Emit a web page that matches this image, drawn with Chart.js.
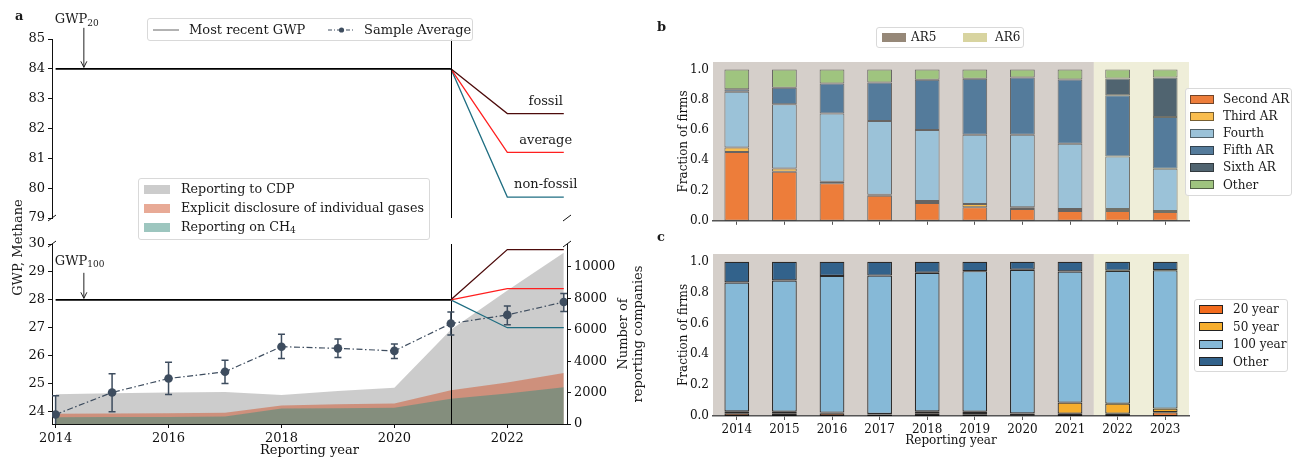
<!DOCTYPE html>
<html>
<head>
<meta charset="utf-8">
<script src="https://cdn.jsdelivr.net/npm/chart.js@4.4.1/dist/chart.umd.min.js"></script>
<style>
  body { margin: 0; background: #fff; font-family: 'DejaVu Serif', serif; color: #1a1a1a; }
  #page { position: relative; width: 1298px; height: 459px; overflow: hidden; }
  canvas { position: absolute; }
  .panel { position: absolute; font-size: 13px; font-weight: bold; line-height: 14px; }
  .leg { position: absolute; box-sizing: border-box; border: 1px solid #d9d9d9; border-radius: 3px; background: rgba(255,255,255,0.8); font-size: 12px; }
  .leg.big { font-size: 13px; }
  .leg .row { position: absolute; height: 14px; line-height: 14px; white-space: nowrap; }
  .leg .sw { position: absolute; box-sizing: border-box; }
  .leg svg { position: absolute; }
  .rot { position: absolute; transform: rotate(-90deg); transform-origin: center center; white-space: nowrap; font-size: 13px; line-height: 15px; text-align: center; }
  sub { font-size: 9px; vertical-align: -2px; line-height: 0; }
</style>
</head>
<body>
<div id="page">
  <canvas id="a1" width="658" height="232" style="left:0;top:0"></canvas>
  <canvas id="a2" width="658" height="227" style="left:0;top:232px"></canvas>
  <canvas id="cb" width="648" height="232" style="left:650px;top:0"></canvas>
  <canvas id="cc" width="648" height="227" style="left:650px;top:232px"></canvas>

  <div class="panel" style="left:15px;top:9px">a</div>
  <div class="panel" style="left:657px;top:20px">b</div>
  <div class="panel" style="left:657px;top:230px">c</div>

  <div class="rot" style="left:-43px;top:240px;width:120px;height:15px">GWP, Methane</div>
  <div class="rot" style="left:545px;top:319px;width:170px;height:30px">Number of<br>reporting companies</div>

  <div class="leg big" style="left:147px;top:18px;width:326px;height:23px">
    <svg style="left:5px;top:4px" width="26" height="14"><line x1="0" y1="7" x2="26" y2="7" stroke="#666" stroke-width="1"/></svg>
    <div class="row" style="left:41px;top:4px">Most recent GWP</div>
    <svg style="left:180px;top:4px" width="27" height="14"><line x1="0" y1="7" x2="27" y2="7" stroke="#3e4d5f" stroke-width="1" stroke-dasharray="4,2,1,2"/><circle cx="13.5" cy="7" r="2.6" fill="#3e4d5f"/></svg>
    <div class="row" style="left:216px;top:4px">Sample Average</div>
  </div>

  <div class="leg big" id="legA" style="left:138px;top:178px;width:292px;height:62px;font-size:12.7px"></div>
  <div class="leg" id="legB" style="left:876px;top:27px;width:148px;height:21px"></div>
  <div class="leg" id="legBR" style="left:1185px;top:88px;width:107px;height:108px"></div>
  <div class="leg" id="legC" style="left:1194px;top:299px;width:94px;height:73px"></div>
</div>

<script>
// ---------- data ----------
var years = [2014, 2015, 2016, 2017, 2018, 2019, 2020, 2021, 2022, 2023];

// panel a: sample average GWP100 for methane used by firms (with error bar ends)
var sampleAvg  = [23.89, 24.68, 25.18, 25.42, 26.32, 26.26, 26.17, 27.15, 27.46, 27.92];
var sampleLow  = [23.22, 23.99, 24.61, 25.00, 25.90, 25.93, 25.90, 26.74, 27.11, 27.58];
var sampleHigh = [24.56, 25.35, 25.76, 25.83, 26.77, 26.60, 26.42, 27.56, 27.78, 28.23];

// number of reporting companies (right axis)
var cdpFirms = [1890, 1950, 2000, 2040, 1850, 2100, 2300, 6000, 8500, 10900];
var gasFirms = [660, 670, 680, 710, 1180, 1250, 1310, 2150, 2650, 3250];
var ch4Firms = [430, 440, 450, 470, 990, 1010, 1030, 1610, 1940, 2340];

// most recent GWP: AR5 value until 2021, then the AR6 split
var ar5Years = [2014, 2021];
var ar6Years = [2021, 2022, 2023];
var gwp20Ar5 = [84, 84];
var gwp100Ar5 = [28, 28];
var gwp20Fossil = [84, 82.5, 82.5];
var gwp20Average = [84, 81.2, 81.2];
var gwp20NonFossil = [84, 79.7, 79.7];
var gwp100Fossil = [28, 29.8, 29.8];
var gwp100Average = [28, 28.4, 28.4];
var gwp100NonFossil = [28, 27.0, 27.0];
var branchNames = ['fossil', 'average', 'non-fossil'];

var gwp20Ticks = [79, 80, 81, 82, 83, 84, 85];
var gwp100Ticks = [24, 25, 26, 27, 28, 29, 30];
var firmTicks = [0, 2000, 4000, 6000, 8000, 10000];
var yearTicks = [2014, 2016, 2018, 2020, 2022];

// panel b: IPCC report the GWP was taken from
var arLabels = ['Second AR', 'Third AR', 'Fourth', 'Fifth AR', 'Sixth AR', 'Other'];
var secondAR = [0.455, 0.325, 0.248, 0.166, 0.118, 0.089, 0.078, 0.065, 0.065, 0.059];
var thirdAR = [0.029, 0.021, 0.011, 0.006, 0.013, 0.022, 0.011, 0.013, 0.013, 0.006];
var fourthAR = [0.370, 0.425, 0.451, 0.488, 0.470, 0.458, 0.480, 0.432, 0.347, 0.279];
var fifthAR = [0.015, 0.109, 0.198, 0.255, 0.331, 0.370, 0.379, 0.425, 0.405, 0.342];
var sixthAR = [null, null, null, null, null, null, null, null, 0.111, 0.262];
var otherAR = [0.131, 0.120, 0.092, 0.085, 0.068, 0.061, 0.052, 0.065, 0.059, 0.052];

// panel c: time horizon
var horizonLabels = ['20 year', '50 year', '100 year', 'Other'];
var year20 = [0.018, 0.015, 0.018, 0.010, 0.015, 0.012, 0.005, 0.015, 0.015, 0.024];
var year50 = [0.012, 0.013, 0.004, 0.003, 0.015, 0.016, 0.012, 0.072, 0.065, 0.024];
var year100 = [0.835, 0.850, 0.886, 0.897, 0.898, 0.911, 0.931, 0.850, 0.861, 0.897];
var yearOther = [0.135, 0.122, 0.092, 0.090, 0.072, 0.061, 0.052, 0.063, 0.059, 0.055];

var fractionTicks = [0, 0.2, 0.4, 0.6, 0.8, 1.0];
var ar6FirstYear = 2022;
var spanLabels = ['AR5', 'AR6'];

// ---------- styles ----------
var ink = '#111';
var fossilColor = '#4d0b0b', averageColor = '#ff1f1f', nonFossilColor = '#1f6e82';
var slate = '#3e4d5f';
var areaColors = ['rgba(153,153,153,0.5)', 'rgba(209,85,45,0.5)', 'rgba(59,141,127,0.5)'];
var areaLabels = ['Reporting to CDP', 'Explicit disclosure of individual gases', 'Reporting on CH<sub>4</sub>'];
var arColors = ['#ed7d3a', '#f9bd4f', '#9bc2d8', '#547b9b', '#506470', '#9fc47f'];
var horizonColors = ['#f26b1d', '#f6ae2d', '#86b9d7', '#32628b'];
var spanColors = ['rgba(150,136,122,0.4)', 'rgba(216,212,160,0.4)'];
var spanPatch = ['#968878', '#d8d4a0'];

Chart.defaults.font.family = "'DejaVu Serif', serif";
Chart.defaults.font.size = 12;
Chart.defaults.color = ink;
Chart.defaults.animation = false;
Chart.defaults.events = [];

var bigFont = {size: 13};
var xMin = 2013.936, xMax = 2023.057;

function pts(xs, ys) {
    return xs.map(function(x, i) { return {x: x, y: ys[i]}; });
}

function lineSet(xs, ys, color, w, axis) {
    return {data: pts(xs, ys), borderColor: color, borderWidth: w, pointRadius: 0,
        fill: false, tension: 0, yAxisID: axis || 'y'};
}

function setTicks(list) {
    return function(s) { s.ticks = list.map(function(v) { return {value: v}; }); };
}

function plain(v) { return String(v); }

function vline(ctx, px, top, bottom) {
    ctx.save();
    ctx.strokeStyle = '#000';
    ctx.lineWidth = 1;
    ctx.beginPath();
    ctx.moveTo(px, top);
    ctx.lineTo(px, bottom);
    ctx.stroke();
    ctx.restore();
}

function breakMark(ctx, px, py) {
    ctx.save();
    ctx.strokeStyle = ink;
    ctx.lineWidth = 1;
    ctx.beginPath();
    ctx.moveTo(px - 4, py + 3);
    ctx.lineTo(px + 4, py - 3);
    ctx.stroke();
    ctx.restore();
}

// arrow pointing at (px, py) with a "GWP_sub" label above it
function arrowNote(ctx, sub, px, py, len, textGap) {
    ctx.save();
    ctx.strokeStyle = '#222';
    ctx.lineWidth = 1;
    ctx.beginPath();
    ctx.moveTo(px, py - len);
    ctx.lineTo(px, py - 1.5);
    ctx.moveTo(px - 3, py - 7.5);
    ctx.lineTo(px, py - 1.5);
    ctx.lineTo(px + 3, py - 7.5);
    ctx.stroke();
    var ty = py - len - textGap;
    var lx = px - 29;
    ctx.fillStyle = '#1a1a1a';
    ctx.textBaseline = 'middle';
    ctx.textAlign = 'left';
    ctx.font = "13px 'DejaVu Serif'";
    ctx.fillText('GWP', lx, ty);
    var w = ctx.measureText('GWP').width;
    ctx.font = "9px 'DejaVu Serif'";
    ctx.fillText(sub, lx + w, ty + 3.5);
    ctx.restore();
}

function axisStyle(extra) {
    var o = {
        ticks: {color: ink, padding: 3, autoSkip: false, maxRotation: 0, font: bigFont, callback: plain},
        grid: {drawOnChartArea: false, tickLength: 4, color: ink},
        border: {color: ink, width: 1}
    };
    for (var k in extra) o[k] = extra[k];
    return o;
}

// ---------- panel a, top (GWP20) ----------
var a1Overlay = {
    id: 'a1Overlay',
    afterDatasetsDraw: function(chart) {
        var ctx = chart.ctx, a = chart.chartArea, x = chart.scales.x, y = chart.scales.y;
        vline(ctx, Math.round(x.getPixelForValue(ar6Years[0])) + 0.5, a.top, a.bottom);
        ctx.save();
        ctx.font = "13px 'DejaVu Serif'";
        ctx.fillStyle = '#1a1a1a';
        ctx.textAlign = 'center';
        ctx.textBaseline = 'middle';
        [gwp20Fossil, gwp20Average, gwp20NonFossil].forEach(function(arr, i) {
            ctx.fillText(branchNames[i], x.getPixelForValue(2022.68), y.getPixelForValue(arr[arr.length - 1]) - 12);
        });
        ctx.restore();
        arrowNote(ctx, '20', x.getPixelForValue(2014.5), y.getPixelForValue(gwp20Ar5[0]), 41, 8);
        breakMark(ctx, a.left, a.bottom);
        breakMark(ctx, a.right, a.bottom);
    }
};

new Chart(document.getElementById('a1'), {
    type: 'line',
    data: {
        datasets: [
            lineSet(ar5Years, gwp20Ar5, '#000', 1.8),
            lineSet(ar6Years, gwp20Fossil, fossilColor, 1.3),
            lineSet(ar6Years, gwp20Average, averageColor, 1.3),
            lineSet(ar6Years, gwp20NonFossil, nonFossilColor, 1.3)
        ]
    },
    options: {
        responsive: false,
        layout: {padding: {left: 0, top: 39, right: 91, bottom: 14}},
        plugins: {legend: {display: false}, tooltip: {enabled: false}},
        scales: {
            x: {type: 'linear', min: xMin, max: xMax, display: false},
            y: axisStyle({min: 79, max: 85, afterBuildTicks: setTicks(gwp20Ticks),
                afterFit: function(s) { s.width = 52; }})
        }
    },
    plugins: [a1Overlay]
});

// ---------- panel a, bottom (GWP100 + reporting companies) ----------
var ch4Index = 5;
var a2Overlay = {
    id: 'a2Overlay',
    afterDatasetDraw: function(chart, args) {
        if (args.index !== ch4Index) return;
        var a = chart.chartArea, x = chart.scales.x;
        vline(chart.ctx, Math.round(x.getPixelForValue(ar6Years[0])) + 0.5, a.top, a.bottom);
    },
    afterDatasetsDraw: function(chart) {
        var ctx = chart.ctx, a = chart.chartArea, x = chart.scales.x, y = chart.scales.y;
        // error bars
        ctx.save();
        ctx.beginPath();
        ctx.rect(a.left, a.top, a.right - a.left, a.bottom - a.top);
        ctx.clip();
        ctx.strokeStyle = slate;
        ctx.lineWidth = 1.5;
        years.forEach(function(yr, i) {
            var px = x.getPixelForValue(yr);
            var lo = y.getPixelForValue(sampleLow[i]), hi = y.getPixelForValue(sampleHigh[i]);
            ctx.beginPath();
            ctx.moveTo(px, lo); ctx.lineTo(px, hi);
            ctx.moveTo(px - 3.5, lo); ctx.lineTo(px + 3.5, lo);
            ctx.moveTo(px - 3.5, hi); ctx.lineTo(px + 3.5, hi);
            ctx.stroke();
        });
        ctx.restore();
        arrowNote(ctx, '100', x.getPixelForValue(2014.5), y.getPixelForValue(gwp100Ar5[0]), 27, 11.5);
        breakMark(ctx, a.left, a.top);
        breakMark(ctx, a.right, a.top);
    }
};

function areaSet(vals, color) {
    return {data: pts(years, vals), backgroundColor: color, borderWidth: 0, pointRadius: 0,
        fill: 'origin', tension: 0, yAxisID: 'y2'};
}

new Chart(document.getElementById('a2'), {
    type: 'line',
    data: {
        datasets: [
            {data: pts(years, sampleAvg), borderColor: slate, borderWidth: 1.2, borderDash: [6, 2.5, 1.5, 2.5],
                pointRadius: 4.3, pointBackgroundColor: slate, pointBorderWidth: 0, fill: false, tension: 0, yAxisID: 'y'},
            lineSet(ar5Years, gwp100Ar5, '#000', 1.8),
            lineSet(ar6Years, gwp100Fossil, fossilColor, 1.3),
            lineSet(ar6Years, gwp100Average, averageColor, 1.3),
            lineSet(ar6Years, gwp100NonFossil, nonFossilColor, 1.3),
            areaSet(ch4Firms, areaColors[2]),
            areaSet(gasFirms, areaColors[1]),
            areaSet(cdpFirms, areaColors[0])
        ]
    },
    options: {
        responsive: false,
        layout: {padding: {left: 0, top: 12, right: 0, bottom: 0}},
        plugins: {legend: {display: false}, tooltip: {enabled: false}},
        scales: {
            x: axisStyle({type: 'linear', min: xMin, max: xMax, afterBuildTicks: setTicks(yearTicks),
                afterFit: function(s) { s.height = 35; },
                title: {display: true, text: 'Reporting year', color: ink, font: bigFont, padding: {top: 0, bottom: 1}}}),
            y: axisStyle({position: 'left', min: 23.55, max: 30, afterBuildTicks: setTicks(gwp100Ticks),
                afterFit: function(s) { s.width = 52; }}),
            y2: axisStyle({position: 'right', min: 0, max: 11460, afterBuildTicks: setTicks(firmTicks),
                afterFit: function(s) { s.width = 91; }})
        }
    },
    plugins: [a2Overlay]
});

// ---------- panels b and c ----------
var spanPlugin = {
    id: 'arSpans',
    beforeDraw: function(chart) {
        var a = chart.chartArea, x = chart.scales.x, ctx = chart.ctx;
        var k = years.indexOf(ar6FirstYear);
        var split = (x.getPixelForValue(k - 1) + x.getPixelForValue(k)) / 2;
        ctx.save();
        ctx.fillStyle = spanColors[0];
        ctx.fillRect(a.left, a.top, split - a.left, a.bottom - a.top);
        ctx.fillStyle = spanColors[1];
        ctx.fillRect(split, a.top, a.right - split, a.bottom - a.top);
        ctx.restore();
    }
};

function barSets(series, colors, border, bw) {
    return series.map(function(d, i) {
        return {data: d, backgroundColor: colors[i], borderColor: border, borderWidth: bw,
            borderSkipped: false, barPercentage: 1, categoryPercentage: 0.52};
    });
}

function stackOptions(padTop, xHeight, showYears) {
    var xAxis = {
        stacked: true, offset: true,
        ticks: {display: showYears, color: ink, padding: 3, autoSkip: false, maxRotation: 0},
        grid: {drawOnChartArea: false, tickLength: 4, color: '#555', offset: false},
        border: {color: '#555', width: 1.5},
        afterFit: function(s) { s.height = xHeight; }
    };
    if (showYears) xAxis.title = {display: true, text: 'Reporting year', color: ink, padding: {top: 0, bottom: 11}};
    return {
        responsive: false,
        layout: {padding: {left: 0, top: padTop, right: 109, bottom: 0}},
        plugins: {legend: {display: false}, tooltip: {enabled: false}},
        scales: {
            x: xAxis,
            y: {stacked: true, min: 0, max: 1.05, afterBuildTicks: setTicks(fractionTicks),
                ticks: {color: ink, padding: 4, callback: function(v) { return v.toFixed(1); }},
                grid: {display: false, drawTicks: false}, border: {display: false},
                title: {display: true, text: 'Fraction of firms', color: ink, padding: {top: 27, bottom: 0}},
                afterFit: function(s) { s.width = 63; }}
        }
    };
}

new Chart(document.getElementById('cb'), {
    type: 'bar',
    data: {
        labels: years.map(String),
        datasets: barSets([secondAR, thirdAR, fourthAR, fifthAR, sixthAR, otherAR], arColors, 'rgba(30,30,30,0.6)', 1)
    },
    options: stackOptions(62, 10, false),
    plugins: [spanPlugin]
});

new Chart(document.getElementById('cc'), {
    type: 'bar',
    data: {
        labels: years.map(String),
        datasets: barSets([year20, year50, year100, yearOther], horizonColors, 'rgba(0,0,0,0.8)', 1.2)
    },
    options: stackOptions(22, 43, true),
    plugins: [spanPlugin]
});

// ---------- legends ----------
function fillLegend(id, labels, colors, opts) {
    var box = document.getElementById(id);
    labels.forEach(function(lab, i) {
        var cy = opts.y0 + i * opts.dy;
        var sw = document.createElement('div');
        sw.className = 'sw';
        sw.style.left = opts.swLeft + 'px';
        sw.style.top = (cy - opts.swH / 2) + 'px';
        sw.style.width = opts.swW + 'px';
        sw.style.height = opts.swH + 'px';
        sw.style.background = colors[i];
        if (opts.edge) sw.style.border = '1px solid ' + opts.edge;
        box.appendChild(sw);
        var row = document.createElement('div');
        row.className = 'row';
        row.style.left = opts.textLeft + 'px';
        row.style.top = (cy - 7) + 'px';
        row.innerHTML = lab;
        box.appendChild(row);
    });
}

fillLegend('legA', areaLabels, areaColors, {y0: 10, dy: 19, swLeft: 5, swW: 26, swH: 9, textLeft: 42});
fillLegend('legBR', arLabels, arColors, {y0: 10, dy: 17.1, swLeft: 4, swW: 24, swH: 9, textLeft: 37, edge: 'rgba(30,30,30,0.6)'});
fillLegend('legC', horizonLabels, horizonColors, {y0: 9, dy: 17.5, swLeft: 4, swW: 24, swH: 9, textLeft: 38, edge: '#222'});

// AR5 / AR6 shading legend laid out in one row
(function() {
    var box = document.getElementById('legB');
    var xs = [[5, 34], [86, 118]];
    spanLabels.forEach(function(lab, i) {
        var sw = document.createElement('div');
        sw.className = 'sw';
        sw.style.left = xs[i][0] + 'px';
        sw.style.top = '5px';
        sw.style.width = '24px';
        sw.style.height = '9px';
        sw.style.background = spanPatch[i];
        box.appendChild(sw);
        var row = document.createElement('div');
        row.className = 'row';
        row.style.left = xs[i][1] + 'px';
        row.style.top = '2px';
        row.textContent = lab;
        box.appendChild(row);
    });
})();
</script>
</body>
</html>
